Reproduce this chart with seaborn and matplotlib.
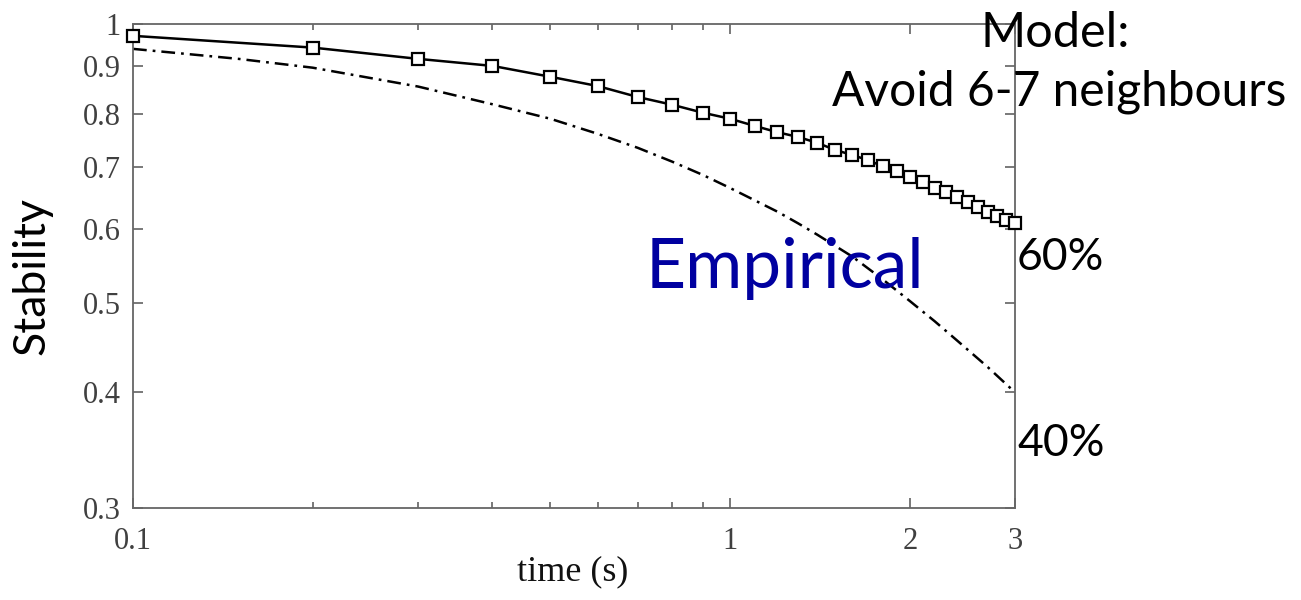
import matplotlib
matplotlib.use("Agg")
import matplotlib.pyplot as plt
import matplotlib.ticker as mticker
import seaborn as sns
import pandas as pd

# Model (solid line with squares): time (s) vs stability
model_time = [0.1, 0.2, 0.3, 0.4, 0.5, 0.6, 0.7, 0.8, 0.9, 1.0,
              1.1, 1.2, 1.3, 1.4, 1.5, 1.6, 1.7, 1.8, 1.9, 2.0,
              2.1, 2.2, 2.3, 2.4, 2.5, 2.6, 2.7, 2.8, 2.9, 3.0]
model_stability = [0.971, 0.943, 0.917, 0.901, 0.877, 0.857, 0.834, 0.818, 0.802, 0.790,
                   0.776, 0.764, 0.755, 0.744, 0.731, 0.722, 0.713, 0.702, 0.694, 0.683,
                   0.675, 0.665, 0.658, 0.650, 0.642, 0.634, 0.627, 0.620, 0.614, 0.610]

# Empirical (dash-dot line)
emp_time = [0.1, 0.15, 0.2, 0.3, 0.4, 0.5, 0.6, 0.7, 0.8, 0.9, 1.0,
            1.2, 1.3, 1.4, 1.6, 1.8, 2.0, 2.2, 2.4, 2.7, 3.0]
emp_stability = [0.940, 0.917, 0.897, 0.856, 0.819, 0.790, 0.761, 0.735, 0.710, 0.687, 0.665,
                 0.627, 0.609, 0.592, 0.561, 0.530, 0.502, 0.4775, 0.455, 0.426, 0.400]

x_ticks = [0.1, 1, 2, 3]
x_ticklabels = ["0.1", "1", "2", "3"]
x_minor = [0.2, 0.3, 0.4, 0.5, 0.6, 0.7, 0.8, 0.9]
y_ticks = [0.3, 0.4, 0.5, 0.6, 0.7, 0.8, 0.9, 1.0]
y_ticklabels = ["0.3", "0.4", "0.5", "0.6", "0.7", "0.8", "0.9", "1"]

sns.set_style("ticks")
plt.rcParams["font.family"] = ["Liberation Serif", "DejaVu Serif"]

fig = plt.figure(figsize=(13.01, 6.0), dpi=100)
ax = fig.add_axes([133 / 1301, 1 - 508 / 600, (1015 - 133) / 1301, (508 - 24) / 600])

df_model = pd.DataFrame({"time": model_time, "stability": model_stability})
df_emp = pd.DataFrame({"time": emp_time, "stability": emp_stability})

sns.lineplot(data=df_emp, x="time", y="stability", ax=ax, color="black",
             linestyle=(0, (5.5, 2.4, 1.1, 2.4)), linewidth=1.8)
sns.lineplot(data=df_model, x="time", y="stability", ax=ax, color="black",
             linewidth=1.8, marker="s", markersize=8.8, markerfacecolor="white",
             markeredgecolor="black", markeredgewidth=1.6, clip_on=False, zorder=5)

ax.set_xscale("log")
ax.set_yscale("log")
ax.set_xlim(0.1, 3)
ax.set_ylim(0.3, 1.0)

ax.xaxis.set_major_locator(mticker.FixedLocator(x_ticks))
ax.xaxis.set_major_formatter(mticker.FixedFormatter(x_ticklabels))
ax.xaxis.set_minor_locator(mticker.FixedLocator(x_minor))
ax.xaxis.set_minor_formatter(mticker.NullFormatter())
ax.yaxis.set_major_locator(mticker.FixedLocator(y_ticks))
ax.yaxis.set_major_formatter(mticker.FixedFormatter(y_ticklabels))
ax.yaxis.set_minor_locator(mticker.NullLocator())

grey = "#404040"
for s in ax.spines.values():
    s.set_color("#666666")
    s.set_linewidth(1.3)
ax.tick_params(which="both", direction="in", top=True, right=True,
               color="#555555", labelcolor=grey, labelsize=22, width=1.1)
ax.tick_params(which="major", length=7)
ax.tick_params(which="minor", length=4)
ax.tick_params(axis="x", pad=14)
ax.tick_params(axis="y", pad=9)

ax.set_xlabel("")
ax.set_ylabel("")
fig.text(573 / 1301, 1 - 572 / 600, "time (s)", fontsize=26, color="#111111",
         ha="center", va="center")

sans = ["Lato", "DejaVu Sans"]
fig.text(32 / 1301, 1 - 276 / 600, "Stability", fontsize=32, family=sans, color="black",
         rotation=90, ha="center", va="center")
fig.text(1055 / 1301, 1 - 33 / 600, "Model:", fontsize=35, family=sans, color="black",
         ha="center", va="center")
fig.text(1059 / 1301, 1 - 92 / 600, "Avoid 6-7 neighbours", fontsize=34.5, family=sans,
         color="black", ha="center", va="center")
fig.text(1017 / 1301, 1 - 258 / 600, "60%", fontsize=32, family=sans, color="black",
         ha="left", va="center")
fig.text(1017 / 1301, 1 - 443 / 600, "40%", fontsize=32, family=sans, color="black",
         ha="left", va="center")
fig.text(785 / 1301, 1 - 268 / 600, "Empirical", fontsize=50, family=sans, color="#0000A0",
         ha="center", va="center")

fig.savefig("out.png", dpi=100)
